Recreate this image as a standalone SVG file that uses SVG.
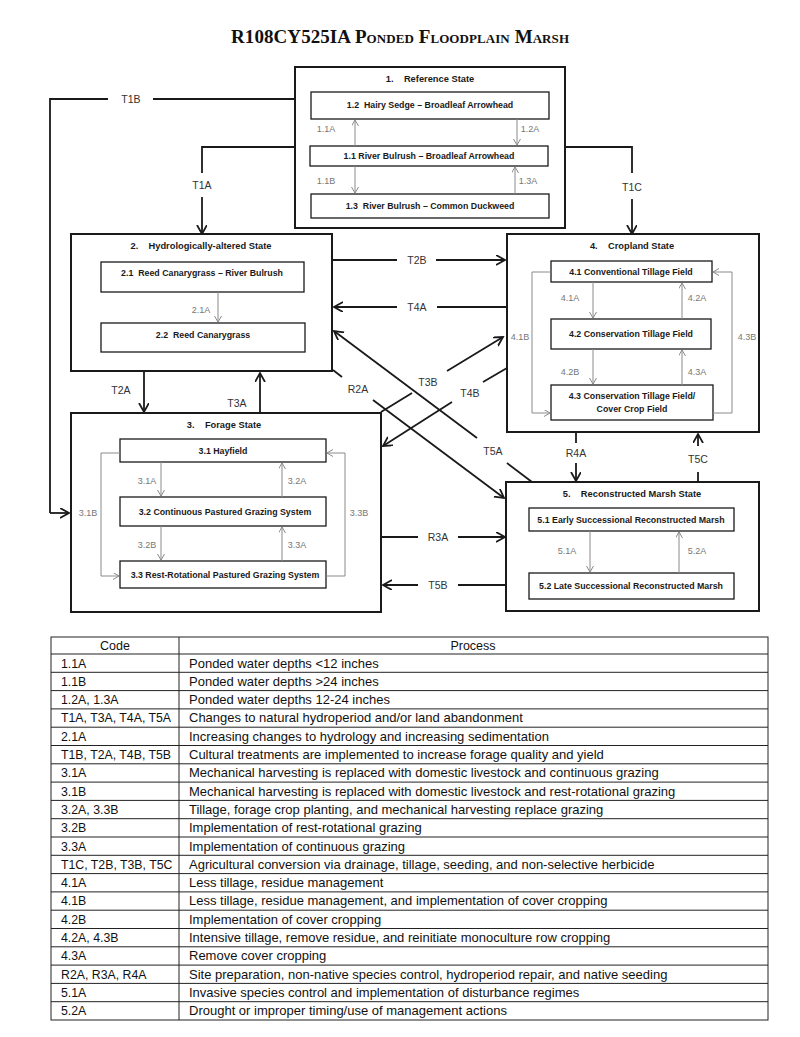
<svg xmlns="http://www.w3.org/2000/svg" width="800" height="1037" viewBox="0 0 800 1037">
<style>
.state{fill:#fff;stroke:#1a1a1a;stroke-width:2}
.inner{fill:#fff;stroke:#1a1a1a;stroke-width:1.3}
.st{font-family:"Liberation Sans",Arial,sans-serif;font-size:9.3px;font-weight:bold;fill:#1a1a1a;text-anchor:middle}
.it{font-family:"Liberation Sans",Arial,sans-serif;font-size:8.8px;font-weight:bold;fill:#1a1a1a;text-anchor:middle}
.gl{font-family:"Liberation Sans",Arial,sans-serif;font-size:9px;fill:#777;text-anchor:middle}
.cl{font-family:"Liberation Sans",Arial,sans-serif;font-size:10.5px;fill:#333;text-anchor:middle}
.conn{fill:none;stroke:#1a1a1a;stroke-width:1.8;marker-end:url(#ah)}
.line{fill:none;stroke:#1a1a1a;stroke-width:1.8}
.garr{fill:none;stroke:#8a8a8a;stroke-width:1;marker-end:url(#gh)}
.tb{fill:none;stroke:#222;stroke-width:1}
.tc{font-family:"Liberation Sans",Arial,sans-serif;font-size:12.3px;fill:#111}
.tt{font-family:"Liberation Sans",Arial,sans-serif;font-size:13px;fill:#111}
.th{font-family:"Liberation Sans",Arial,sans-serif;font-size:12.5px;fill:#111;text-anchor:middle}
</style>
<defs>
<marker id="ah" markerUnits="userSpaceOnUse" markerWidth="12" markerHeight="12" refX="9" refY="5" orient="auto">
<path d="M0,0 L9,5 L0,10" fill="none" stroke="#1a1a1a" stroke-width="1.8"/>
</marker>
<marker id="gh" markerUnits="userSpaceOnUse" markerWidth="10" markerHeight="10" refX="6" refY="3.5" orient="auto">
<path d="M0,0 L6,3.5 L0,7" fill="none" stroke="#8a8a8a" stroke-width="1"/>
</marker>
</defs>
<rect width="800" height="1037" fill="#fff"/>
<text x="400" y="43" text-anchor="middle" font-family="'Liberation Serif','Times New Roman',serif" font-size="19" font-weight="bold" font-variant="small-caps" fill="#111" textLength="338">R108CY525IA Ponded Floodplain Marsh</text>

<g id="connectors">
<path class="line" d="M295,99 H153 M108,99 H50 V513"/>
<path class="conn" d="M50,513 H69"/>
<text class="cl" x="131" y="103">T1B</text>
<path class="line" d="M295,147 H202 V173"/>
<path class="conn" d="M202,197 V234"/>
<text class="cl" x="202" y="189">T1A</text>
<path class="line" d="M565,147 H632 V173"/>
<path class="conn" d="M632,199 V234"/>
<text class="cl" x="632" y="191">T1C</text>
<path class="line" d="M332,260 H397"/>
<path class="conn" d="M436,260 H505"/>
<text class="cl" x="417" y="264">T2B</text>
<path class="line" d="M507,307 H437"/>
<path class="conn" d="M397,307 H334"/>
<text class="cl" x="417" y="311">T4A</text>
<path class="conn" d="M144,371 V412"/>
<text class="cl" x="121" y="394">T2A</text>
<path class="conn" d="M260,413 V373"/>
<text class="cl" x="237" y="407">T3A</text>
<path class="line" d="M333,370 L342,377"/>
<path class="conn" d="M373,400 L504,498"/>
<text class="cl" x="358" y="393">R2A</text>
<path class="line" d="M532,482 L507,463"/>
<path class="conn" d="M477,438 L334,331"/>
<text class="cl" x="493" y="455">T5A</text>
<path class="line" d="M381,412 L412,393"/>
<path class="conn" d="M447,371 L503,337"/>
<text class="cl" x="428" y="386">T3B</text>
<path class="line" d="M507,368 L483,382"/>
<path class="conn" d="M452,402 L383,446"/>
<text class="cl" x="470" y="397">T4B</text>
<path class="line" d="M576,433 V443"/>
<path class="conn" d="M576,463 V481"/>
<text class="cl" x="576" y="457">R4A</text>
<path class="line" d="M698,482 V472"/>
<path class="conn" d="M698,446 V434"/>
<text class="cl" x="698" y="463">T5C</text>
<path class="line" d="M381,537 H418"/>
<path class="conn" d="M458,537 H505"/>
<text class="cl" x="438" y="541">R3A</text>
<path class="line" d="M506,585 H458"/>
<path class="conn" d="M418,585 H383"/>
<text class="cl" x="438" y="589">T5B</text>
</g>

<g id="state1">
<rect class="state" x="295" y="67" width="270" height="161"/>
<text class="st" x="430" y="82" xml:space="preserve">1.    Reference State</text>
<rect class="inner" x="311" y="92" width="238" height="27"/>
<text class="it" x="430" y="108" xml:space="preserve">1.2  Hairy Sedge – Broadleaf Arrowhead</text>
<rect class="inner" x="310" y="146" width="238" height="20"/>
<text class="it" x="429" y="159">1.1 River Bulrush – Broadleaf Arrowhead</text>
<rect class="inner" x="311" y="194" width="238" height="24"/>
<text class="it" x="430" y="209" xml:space="preserve">1.3  River Bulrush – Common Duckweed</text>
<path class="garr" d="M355,146 V120"/>
<path class="garr" d="M517,119 V145"/>
<path class="garr" d="M355,166 V193"/>
<path class="garr" d="M515,194 V167"/>
<text class="gl" x="326" y="132">1.1A</text>
<text class="gl" x="530" y="132">1.2A</text>
<text class="gl" x="326" y="184">1.1B</text>
<text class="gl" x="528" y="184">1.3A</text>
</g>

<g id="state2">
<rect class="state" x="71" y="234" width="261" height="137"/>
<text class="st" x="201" y="249" xml:space="preserve">2.    Hydrologically-altered State</text>
<rect class="inner" x="101" y="262" width="203" height="30"/>
<text class="it" x="202" y="276" xml:space="preserve">2.1  Reed Canarygrass – River Bulrush</text>
<rect class="inner" x="101" y="323" width="204" height="29"/>
<text class="it" x="203" y="338" xml:space="preserve">2.2  Reed Canarygrass</text>
<path class="garr" d="M218,292 V322"/>
<text class="gl" x="201" y="313">2.1A</text>
</g>

<g id="state3">
<rect class="state" x="71" y="413" width="310" height="199"/>
<text class="st" x="224" y="428" xml:space="preserve">3.    Forage State</text>
<rect class="inner" x="120" y="439" width="206" height="23"/>
<text class="it" x="223" y="454">3.1 Hayfield</text>
<rect class="inner" x="120" y="497" width="206" height="29"/>
<text class="it" x="225" y="515">3.2 Continuous Pastured Grazing System</text>
<rect class="inner" x="120" y="561" width="206" height="27"/>
<text class="it" x="225" y="578">3.3 Rest-Rotational Pastured Grazing System</text>
<path class="garr" d="M161,462 V496"/>
<path class="garr" d="M282,497 V463"/>
<path class="garr" d="M161,526 V560"/>
<path class="garr" d="M282,561 V527"/>
<path class="garr" d="M120,453 H101 V576 H119"/>
<path class="garr" d="M326,576 H345 V453 H327"/>
<text class="gl" x="147" y="484">3.1A</text>
<text class="gl" x="297" y="484">3.2A</text>
<text class="gl" x="147" y="548">3.2B</text>
<text class="gl" x="297" y="548">3.3A</text>
<text class="gl" x="88" y="516">3.1B</text>
<text class="gl" x="359" y="516">3.3B</text>
</g>

<g id="state4">
<rect class="state" x="507" y="234" width="252" height="198"/>
<text class="st" x="632" y="249" xml:space="preserve">4.    Cropland State</text>
<rect class="inner" x="551" y="261" width="161" height="21"/>
<text class="it" x="631" y="275">4.1 Conventional Tillage Field</text>
<rect class="inner" x="551" y="319" width="160" height="30"/>
<text class="it" x="631" y="337">4.2 Conservation Tillage Field</text>
<rect class="inner" x="551" y="385" width="162" height="35"/>
<text class="it" x="632" y="399">4.3 Conservation Tillage Field/</text>
<text class="it" x="632" y="412">Cover Crop Field</text>
<path class="garr" d="M593,282 V318"/>
<path class="garr" d="M682,319 V283"/>
<path class="garr" d="M593,349 V384"/>
<path class="garr" d="M682,385 V350"/>
<path class="garr" d="M551,272 H532 V413 H550"/>
<path class="garr" d="M713,413 H732 V272 H713"/>
<text class="gl" x="570" y="301">4.1A</text>
<text class="gl" x="697" y="301">4.2A</text>
<text class="gl" x="570" y="375">4.2B</text>
<text class="gl" x="697" y="375">4.3A</text>
<text class="gl" x="520" y="340">4.1B</text>
<text class="gl" x="747" y="340">4.3B</text>
</g>

<g id="state5">
<rect class="state" x="506" y="482" width="253" height="129"/>
<text class="st" x="632" y="497" xml:space="preserve">5.    Reconstructed Marsh State</text>
<rect class="inner" x="529" y="508" width="205" height="23"/>
<text class="it" x="631" y="523">5.1 Early Successional Reconstructed Marsh</text>
<rect class="inner" x="529" y="573" width="205" height="26"/>
<text class="it" x="631" y="589">5.2 Late Successional Reconstructed Marsh</text>
<path class="garr" d="M590,531 V572"/>
<path class="garr" d="M679,573 V532"/>
<text class="gl" x="567" y="554">5.1A</text>
<text class="gl" x="697" y="554">5.2A</text>
</g>

<g id="table">
<rect class="tb" x="51" y="637" width="717" height="383" stroke-width="1.3"/>
<path class="tb" d="M179,637 V1020 M51,654 H768 M51,672.3 H768 M51,690.6 H768 M51,708.9 H768 M51,727.2 H768 M51,745.5 H768 M51,763.8 H768 M51,782.1 H768 M51,800.4 H768 M51,818.7 H768 M51,837 H768 M51,855.3 H768 M51,873.6 H768 M51,891.9 H768 M51,910.2 H768 M51,928.5 H768 M51,946.8 H768 M51,965.1 H768 M51,983.4 H768 M51,1001.7 H768"/>
<text class="th" x="115" y="650">Code</text>
<text class="th" x="473" y="650">Process</text>
<text class="tc" x="61" y="667.5">1.1A</text><text class="tt" x="189" y="667.5">Ponded water depths &lt;12 inches</text>
<text class="tc" x="61" y="685.8">1.1B</text><text class="tt" x="189" y="685.8">Ponded water depths &gt;24 inches</text>
<text class="tc" x="61" y="704.1">1.2A, 1.3A</text><text class="tt" x="189" y="704.1">Ponded water depths 12-24 inches</text>
<text class="tc" x="61" y="722.4">T1A, T3A, T4A, T5A</text><text class="tt" x="189" y="722.4">Changes to natural hydroperiod and/or land abandonment</text>
<text class="tc" x="61" y="740.7">2.1A</text><text class="tt" x="189" y="740.7">Increasing changes to hydrology and increasing sedimentation</text>
<text class="tc" x="61" y="759">T1B, T2A, T4B, T5B</text><text class="tt" x="189" y="759">Cultural treatments are implemented to increase forage quality and yield</text>
<text class="tc" x="61" y="777.3">3.1A</text><text class="tt" x="189" y="777.3">Mechanical harvesting is replaced with domestic livestock and continuous grazing</text>
<text class="tc" x="61" y="795.6">3.1B</text><text class="tt" x="189" y="795.6">Mechanical harvesting is replaced with domestic livestock and rest-rotational grazing</text>
<text class="tc" x="61" y="813.9">3.2A, 3.3B</text><text class="tt" x="189" y="813.9">Tillage, forage crop planting, and mechanical harvesting replace grazing</text>
<text class="tc" x="61" y="832.2">3.2B</text><text class="tt" x="189" y="832.2">Implementation of rest-rotational grazing</text>
<text class="tc" x="61" y="850.5">3.3A</text><text class="tt" x="189" y="850.5">Implementation of continuous grazing</text>
<text class="tc" x="61" y="868.8">T1C, T2B, T3B, T5C</text><text class="tt" x="189" y="868.8">Agricultural conversion via drainage, tillage, seeding, and non-selective herbicide</text>
<text class="tc" x="61" y="887.1">4.1A</text><text class="tt" x="189" y="887.1">Less tillage, residue management</text>
<text class="tc" x="61" y="905.4">4.1B</text><text class="tt" x="189" y="905.4">Less tillage, residue management, and implementation of cover cropping</text>
<text class="tc" x="61" y="923.7">4.2B</text><text class="tt" x="189" y="923.7">Implementation of cover cropping</text>
<text class="tc" x="61" y="942">4.2A, 4.3B</text><text class="tt" x="189" y="942">Intensive tillage, remove residue, and reinitiate monoculture row cropping</text>
<text class="tc" x="61" y="960.3">4.3A</text><text class="tt" x="189" y="960.3">Remove cover cropping</text>
<text class="tc" x="61" y="978.6">R2A, R3A, R4A</text><text class="tt" x="189" y="978.6">Site preparation, non-native species control, hydroperiod repair, and native seeding</text>
<text class="tc" x="61" y="996.9">5.1A</text><text class="tt" x="189" y="996.9">Invasive species control and implementation of disturbance regimes</text>
<text class="tc" x="61" y="1015.2">5.2A</text><text class="tt" x="189" y="1015.2">Drought or improper timing/use of management actions</text>
</g>
</svg>
